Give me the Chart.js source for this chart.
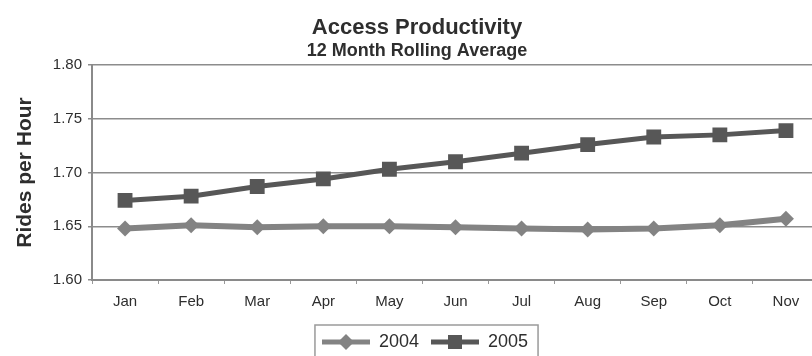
<!DOCTYPE html>
<html>
<head>
<meta charset="utf-8">
<script src="https://cdn.jsdelivr.net/npm/chart.js@4.4.1/dist/chart.umd.min.js"></script>
<style>
	html, body { margin: 0; padding: 0; background: #fff; overflow: hidden; }
	#chart { display: block; }
</style>
</head>
<body>
<canvas id="chart" width="830" height="356"></canvas>
<script>
const months = ["Jan", "Feb", "Mar", "Apr", "May", "Jun", "Jul", "Aug", "Sep", "Oct", "Nov"];
const values2004 = [1.648, 1.651, 1.649, 1.650, 1.650, 1.649, 1.648, 1.647, 1.648, 1.651, 1.657];
const values2005 = [1.674, 1.678, 1.687, 1.694, 1.703, 1.710, 1.718, 1.726, 1.733, 1.735, 1.739];

const color2004 = "#838383";
const color2005 = "#575757";
const textColor = "#2e2e2e";
const sans = "'Liberation Sans', Arial, sans-serif";

// small line + marker picture for the legend, like the spreadsheet legend
function legendIcon(color, shape) {
	const c = document.createElement("canvas");
	c.width = 48;
	c.height = 18;
	const g = c.getContext("2d");
	g.strokeStyle = color;
	g.fillStyle = color;
	g.lineWidth = 5;
	g.beginPath();
	g.moveTo(0, 9);
	g.lineTo(48, 9);
	g.stroke();
	g.beginPath();
	if (shape === "rect") {
		g.rect(17, 2, 14, 14);
	} else {
		g.moveTo(24, 1);
		g.lineTo(32, 9);
		g.lineTo(24, 17);
		g.lineTo(16, 9);
		g.closePath();
	}
	g.fill();
	return c;
}

const legendIcons = [legendIcon(color2004, "diamond"), legendIcon(color2005, "rect")];

// nudge the legend a bit right / down, then frame it
const legendFrame = {
	id: "legendFrame",
	afterLayout(chart) {
		const lg = chart.legend;
		lg.left += 8;
		lg.right += 8;
		lg.top += 5;
		lg.bottom += 5;
	},
	afterDraw(chart) {
		const boxes = chart.legend.legendHitBoxes;
		if (!boxes || !boxes.length) return;
		const left = Math.min(...boxes.map(b => b.left)) - 7;
		const right = Math.max(...boxes.map(b => b.left + b.width)) + 10;
		const ctx = chart.ctx;
		ctx.save();
		ctx.strokeStyle = "#9a9a9a";
		ctx.lineWidth = 1.5;
		ctx.strokeRect(left, 325, right - left, 60);
		ctx.restore();
	}
};

new Chart(document.getElementById("chart").getContext("2d"), {
	type: "line",
	data: {
		labels: months,
		datasets: [{
			label: "2004",
			data: values2004,
			borderColor: color2004,
			backgroundColor: color2004,
			borderWidth: 6,
			pointStyle: "rectRot",
			pointRadius: 8,
			pointBorderWidth: 0,
			tension: 0
		}, {
			label: "2005",
			data: values2005,
			borderColor: color2005,
			backgroundColor: color2005,
			borderWidth: 5,
			pointStyle: "rect",
			pointRadius: 10.5,
			pointBorderWidth: 0,
			tension: 0
		}]
	},
	options: {
		responsive: false,
		animation: false,
		layout: { padding: { left: 15, right: 11, top: 0, bottom: 0 } },
		plugins: {
			title: {
				display: true,
				text: "Access Productivity",
				color: textColor,
				font: { family: sans, weight: "bold", size: 22, lineHeight: 1 },
				padding: { top: 17, bottom: 0 }
			},
			subtitle: {
				display: true,
				text: "12 Month Rolling Average",
				color: textColor,
				font: { family: sans, weight: "bold", size: 18, lineHeight: 1 },
				padding: { top: 3, bottom: 5 }
			},
			legend: {
				position: "bottom",
				labels: {
					usePointStyle: true,
					pointStyleWidth: 48,
					color: textColor,
					font: { family: sans, size: 18 },
					padding: 12,
					generateLabels(chart) {
						const items = Chart.defaults.plugins.legend.labels.generateLabels(chart);
						items.forEach((item, i) => { item.pointStyle = legendIcons[i]; });
						return items;
					}
				}
			},
			tooltip: { enabled: false }
		},
		scales: {
			x: {
				offset: true,
				grid: { offset: true, drawOnChartArea: false, tickLength: 4, color: "#999" },
				border: { color: "#8a8a8a", width: 2 },
				ticks: { color: textColor, font: { family: sans, size: 15 }, padding: 9, maxRotation: 0 },
				afterFit(scale) { scale.height = 36; }
			},
			y: {
				min: 1.6,
				max: 1.8,
				ticks: {
					stepSize: 0.05,
					color: textColor,
					font: { family: sans, size: 15 },
					padding: 6,
					callback: v => v.toFixed(2)
				},
				grid: { color: "#8c8c8c", lineWidth: 1.5, tickLength: 4 },
				border: { color: "#8a8a8a", width: 2 },
				title: {
					display: true,
					text: "Rides per Hour",
					color: textColor,
					font: { family: sans, weight: "bold", size: 21, lineHeight: 1 },
					padding: { top: 0, bottom: 0 }
				},
				afterFit(scale) { scale.width = 77; }
			}
		}
	},
	plugins: [legendFrame]
});
</script>
</body>
</html>
